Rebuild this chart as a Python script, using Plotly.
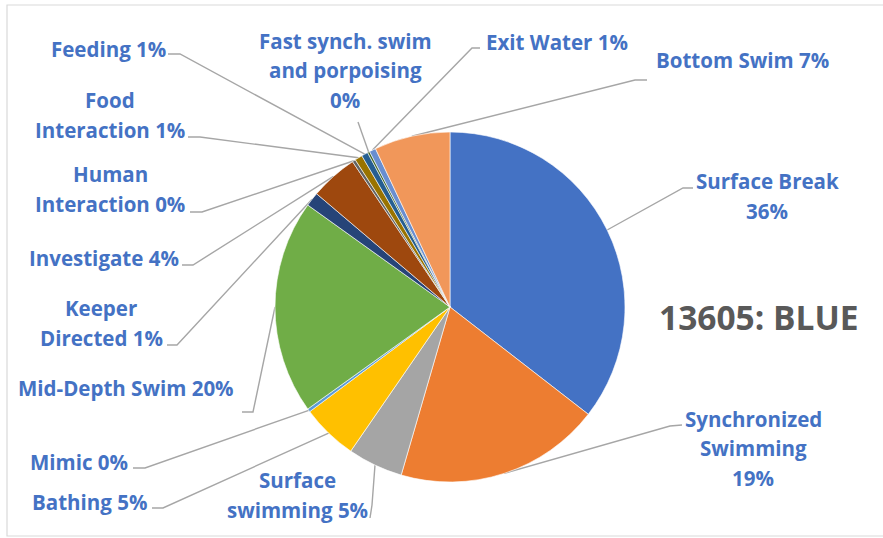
import math
import plotly.graph_objects as go

# Share of observed time per behaviour (percent), clockwise from 12 o'clock
behaviours = [
    "Surface Break", "Synchronized Swimming", "Surface swimming", "Bathing",
    "Mimic", "Mid-Depth Swim", "Keeper Directed", "Investigate",
    "Human Interaction", "Food Interaction", "Feeding",
    "Fast synch. swim and porpoising", "Exit Water", "Bottom Swim",
]
shares = [35.5, 19.0, 5.1, 5.2, 0.3, 19.8, 1.3, 4.4, 0.3, 0.7, 0.6, 0.2, 0.6, 7.0]

# Label text split into lines, in the same order as behaviours
label_lines = [
    ["Surface Break"], ["Synchronized", "Swimming"], ["Surface", "swimming"],
    ["Bathing"], ["Mimic"], ["Mid-Depth Swim"], ["Keeper", "Directed"],
    ["Investigate"], ["Human", "Interaction"], ["Food", "Interaction"],
    ["Feeding"], ["Fast synch. swim", "and porpoising"], ["Exit Water"],
    ["Bottom Swim"],
]
# Whether the percentage goes on its own line
pct_own_line = [True, True, False, False, False, False, False, False,
                False, False, False, True, False, False]

colors = [
    "#4472C4", "#ED7D31", "#A5A5A5", "#FFC000", "#5B9BD5", "#70AD47",
    "#264478", "#9E480E", "#636363", "#997300", "#255E91", "#43682B",
    "#698ED0", "#F1975A",
]

chart_title = "13605: BLUE"

# Layout geometry (pixels)
W, H = 883, 538
CX, CY, R = 450, 307, 175
LINE_GAP = 29.5

# Label centres and leader-line routing (label end, elbow)
label_pos = [
    (767, 196), (753, 448), (297, 495), (89, 502), (79, 462), (126, 388),
    (101, 323), (104, 258), (110, 189), (110, 115), (108, 49), (345, 70),
    (557, 42), (742, 60),
]
leader_start = [
    [(693, 188), (683, 188)], [(682, 425), (670, 426)], [(370, 518), (372, 505)],
    [(152, 508), (163, 508)], [(133, 468), (145, 468)], [(242, 412), (253, 412)],
    [(167, 345), (177, 345)], [(182, 265), (193, 265)], [(190, 212), (202, 212)],
    [(188, 137), (200, 137)], [(168, 54), (180, 54)], [(358, 122)],
    [(480, 48), (472, 48)], [(647, 80), (635, 80)],
]

total = sum(shares)
pcts = [int(v / total * 100 + 0.5) for v in shares]

fig = go.Figure()

fig.add_trace(go.Pie(
    labels=behaviours,
    values=shares,
    sort=False,
    direction="clockwise",
    rotation=0,
    marker=dict(colors=colors, line=dict(color="white", width=0.6)),
    textinfo="none",
    hoverinfo="label+percent",
    showlegend=False,
    domain=dict(x=[(CX - R) / W, (CX + R) / W],
                y=[1 - (CY + R) / H, 1 - (CY - R) / H]),
))

# Leader lines: from each label to the rim of its slice at the mid-angle
lx, ly = [], []
cum = 0.0
for v, pts in zip(shares, leader_start):
    mid = (cum + v / 2) / total * 2 * math.pi
    cum += v
    ex = CX + R * math.sin(mid)
    ey = CY - R * math.cos(mid)
    for (px, py) in pts:
        lx.append(px)
        ly.append(py)
    lx += [ex, None]
    ly += [ey, None]

fig.add_trace(go.Scatter(
    x=lx, y=ly, mode="lines",
    line=dict(color="#A6A6A6", width=1.4),
    hoverinfo="skip", showlegend=False,
    xaxis="x", yaxis="y",
))

label_font = dict(family="Open Sans", size=20.5, color="#4472C4", weight="bold")
annotations = []
for lines, own, p, (x, y) in zip(label_lines, pct_own_line, pcts, label_pos):
    if own:
        rows = lines + [f"{p}%"]
    else:
        rows = lines[:-1] + [f"{lines[-1]} {p}%"]
    n = len(rows)
    for i, row in enumerate(rows):
        annotations.append(dict(
            x=x, y=y + (i - (n - 1) / 2) * LINE_GAP, xref="x", yref="y",
            text=row, showarrow=False,
            xanchor="center", yanchor="middle", align="center",
            font=label_font,
        ))

annotations.append(dict(
    x=759, y=317, xref="x", yref="y", text=chart_title, showarrow=False,
    xanchor="center", yanchor="middle",
    font=dict(family="Open Sans", size=33.5, color="#595959", weight="bold"),
))

fig.update_layout(
    width=W, height=H,
    margin=dict(l=0, r=0, t=0, b=0),
    paper_bgcolor="white", plot_bgcolor="rgba(0,0,0,0)",
    xaxis=dict(range=[0, W], visible=False, fixedrange=True),
    yaxis=dict(range=[H, 0], visible=False, fixedrange=True),
    annotations=annotations,
    shapes=[dict(type="rect", xref="x", yref="y", x0=7, y0=5, x1=892, y1=536,
                 line=dict(color="#D9D9D9", width=1.2), layer="below")],
)

fig.write_html("out.html")
